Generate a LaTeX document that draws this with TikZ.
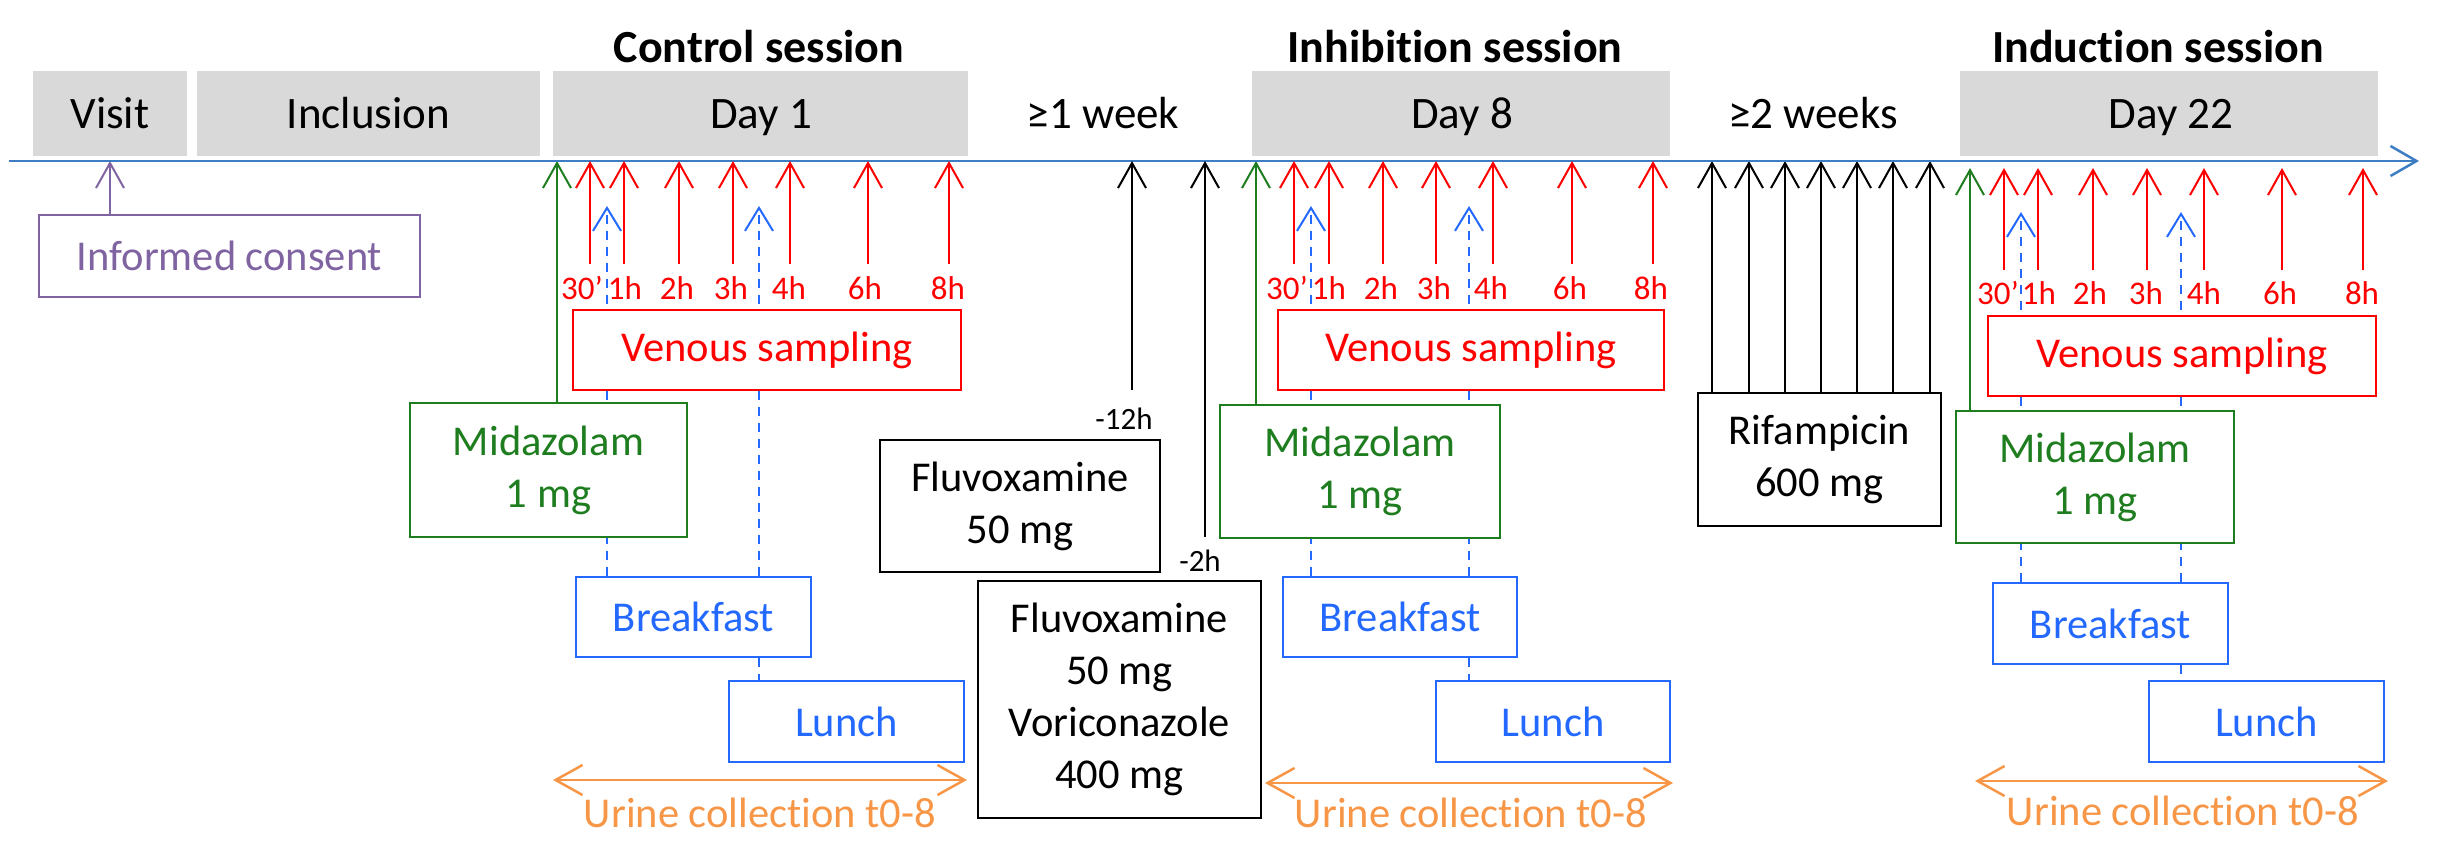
\documentclass[tikz,border=0pt]{standalone}
\usepackage{fontspec}
\setmainfont{Carlito}[Ligatures=NoCommon]
\usetikzlibrary{arrows.meta,backgrounds}
\definecolor{cred}{RGB}{255,0,0}
\definecolor{cgreen}{RGB}{30,125,30}
\definecolor{cblue}{RGB}{35,105,255}
\definecolor{cpurple}{RGB}{128,100,162}
\definecolor{corange}{RGB}{247,150,70}
\definecolor{cgrey}{RGB}{217,217,217}
\definecolor{caxis}{RGB}{60,125,196}
\tikzset{
  ftitle/.style={font=\fontsize{46}{55}\selectfont\bfseries},
  fgrey/.style={font=\fontsize{45}{54}\selectfont},
  fmain/.style={font=\fontsize{42.5}{52}\selectfont},
  flab/.style={font=\fontsize{33}{38}\selectfont},
  fsmall/.style={font=\fontsize{31}{37}\selectfont},
  greybox/.style={fill=cgrey,draw=none,minimum height=85pt,inner sep=0pt},
  greytext/.style={fgrey,anchor=base,inner sep=0pt},
  framebox/.style={draw,line width=2.5pt,fill=white,inner sep=0pt,align=center,fmain},
  tiparr/.style={-{Straight Barb[length=25pt,width=28pt]}},
  redarr/.style={draw=cred,line width=2pt,tiparr},
  greenarr/.style={draw=cgreen,line width=2pt,tiparr},
  blackarr/.style={draw=black,line width=2pt,tiparr},
  purplearr/.style={draw=cpurple,line width=2pt,tiparr},
  bluedasharr/.style={draw=cblue,line width=2pt,dash pattern=on 9pt off 7pt,-{Straight Barb[length=23pt,width=28pt]}},
  bluedash/.style={draw=cblue,line width=2pt,dash pattern=on 9pt off 7pt},
  urinearr/.style={draw=corange,line width=2.5pt,{Straight Barb[length=27pt,width=30pt]}-{Straight Barb[length=27pt,width=30pt]}},
  redlab/.style={flab,text=cred,anchor=base,inner sep=0pt},
  urinelab/.style={fmain,text=corange,anchor=base,inner sep=0pt},
}
\begin{document}
\begin{tikzpicture}[x=1pt,y=-1pt]
\useasboundingbox (0,0) rectangle (2443,857);
% titles
\node[ftitle,anchor=base] (t1) at (759,62) {Control session};
\node[ftitle,anchor=base] (t2) at (1455,62) {Inhibition session};
\node[ftitle,anchor=base] (t3) at (2158,62) {Induction session};
% grey boxes
\node[greybox,minimum width=154pt] (gvisit) at (110,113.5) {};
\node[greybox,minimum width=343pt] (gincl) at (368.5,113.5) {};
\node[greybox,minimum width=415pt] (gday1) at (760.5,113.5) {};
\node[greybox,minimum width=418pt] (gday8) at (1461,113.5) {};
\node[greybox,minimum width=418pt] (gday22) at (2169,113.5) {};
\node[greytext] (tvisit) at (110,128) {Visit};
\node[greytext] (tincl) at (368.5,128) {Inclusion};
\node[greytext] (tday1) at (761,128) {Day 1};
\node[greytext] (tw1) at (1103,128) {≥1 week};
\node[greytext] (tday8) at (1462,128) {Day 8};
\node[greytext] (tw2) at (1813,128) {≥2 weeks};
\node[greytext] (tday22) at (2171,128) {Day 22};
% axis
\coordinate (axL) at (9,161);
\coordinate (axR) at (2419,161);
\draw[draw=caxis,line width=2.5pt,-{Straight Barb[length=26pt,width=30pt]}] (axL) -- (axR);
% boxes
\node[framebox,draw=cpurple,text=cpurple,minimum width=381pt,minimum height=82pt] (ic) at (229.5,256) {Informed consent};
% control
\node[framebox,draw=cred,text=cred,minimum width=388pt,minimum height=80pt] (ven1) at (767,350) {Venous sampling};
\node[framebox,draw=cgreen,text=cgreen,minimum width=277pt,minimum height=134pt] (mid1) at (548.5,470) {Midazolam\\1 mg};
\node[framebox,draw=cblue,text=cblue,minimum width=235pt,minimum height=80pt] (bf1) at (693.5,617) {Breakfast};
\node[framebox,draw=cblue,text=cblue,minimum width=235pt,minimum height=81pt] (lu1) at (846.5,721.5) {Lunch};
% inhibition
\node[framebox,draw=cred,text=cred,minimum width=386pt,minimum height=80pt] (ven2) at (1471,350) {Venous sampling};
\node[framebox,draw=cgreen,text=cgreen,minimum width=280pt,minimum height=133pt] (mid2) at (1360,471.5) {Midazolam\\1 mg};
\node[framebox,draw=cblue,text=cblue,minimum width=234pt,minimum height=80pt] (bf2) at (1400,617) {Breakfast};
\node[framebox,draw=cblue,text=cblue,minimum width=234pt,minimum height=81pt] (lu2) at (1553,721.5) {Lunch};
% induction
\node[framebox,draw=cred,text=cred,minimum width=388pt,minimum height=80pt] (ven3) at (2182,356) {Venous sampling};
\node[framebox,draw=cgreen,text=cgreen,minimum width=278pt,minimum height=132pt] (mid3) at (2095,477) {Midazolam\\1 mg};
\node[framebox,draw=cblue,text=cblue,minimum width=235pt,minimum height=81pt] (bf3) at (2110.5,623.5) {Breakfast};
\node[framebox,draw=cblue,text=cblue,minimum width=235pt,minimum height=81pt] (lu3) at (2266.5,721.5) {Lunch};
% drugs
\node[framebox,draw=black,minimum width=280pt,minimum height=132pt] (fl) at (1020,506) {Fluvoxamine\\50 mg};
\node[framebox,draw=black,minimum width=283pt,minimum height=237pt] (fv) at (1119.5,699.5) {Fluvoxamine\\50 mg\\Voriconazole\\400 mg};
\node[framebox,draw=black,minimum width=243pt,minimum height=133pt] (rif) at (1819.5,459.5) {Rifampicin\\600 mg};
% small labels
\node[fsmall,anchor=base,inner sep=0pt] (l12) at (1124,429) {-12h};
\node[fsmall,anchor=base,inner sep=0pt] (l2) at (1200,571) {-2h};
% red arrows and labels
\foreach \x [count=\i] in {590,624,679,733,790,868,949} {
  \coordinate (ra\i) at (\x,264); \coordinate (rb\i) at (\x,161);
  \draw[redarr] (ra\i) -- (rb\i);
}
\foreach \x [count=\i] in {1294,1329,1383,1436,1493,1572,1653} {
  \coordinate (rc\i) at (\x,264); \coordinate (rd\i) at (\x,161);
  \draw[redarr] (rc\i) -- (rd\i);
}
\foreach \x [count=\i] in {2004,2038,2093,2147,2204,2282,2363} {
  \coordinate (re\i) at (\x,270); \coordinate (rf\i) at (\x,168);
  \draw[redarr] (re\i) -- (rf\i);
}
\foreach \x/\t [count=\i] in {582/30’,625/1h,677/2h,731/3h,789/4h,865/6h,948/8h} {
  \node[redlab] (la\i) at (\x,299) {\t};
}
\foreach \x/\t [count=\i] in {1287/30’,1329/1h,1381/2h,1434/3h,1491/4h,1570/6h,1651/8h} {
  \node[redlab] (lb\i) at (\x,299) {\t};
}
\foreach \x/\t [count=\i] in {1998/30’,2039/1h,2090/2h,2146/3h,2204/4h,2280/6h,2362/8h} {
  \node[redlab] (lc\i) at (\x,304) {\t};
}
% rifampicin arrows
\foreach \x [count=\i] in {1712,1749,1785,1821,1857,1893,1930} {
  \coordinate (rt\i) at (\x,161);
}
% black fluvoxamine arrows
\coordinate (k1a) at (1132,390); \coordinate (k1b) at (1132,161);
\coordinate (k2a) at (1205,537); \coordinate (k2b) at (1205,161);
\draw[blackarr] (k1a) -- (k1b);
\draw[blackarr] (k2a) -- (k2b);
% urine
\coordinate (u1a) at (553,780); \coordinate (u1b) at (967,780);
\coordinate (u2a) at (1265,783); \coordinate (u2b) at (1673,783);
\coordinate (u3a) at (1975,781); \coordinate (u3b) at (2388,781);
\draw[urinearr] (u1a) -- (u1b);
\draw[urinearr] (u2a) -- (u2b);
\draw[urinearr] (u3a) -- (u3b);
\node[urinelab] (ut1) at (760,827) {Urine collection t0-8};
\node[urinelab] (ut2) at (1471,827) {Urine collection t0-8};
\node[urinelab] (ut3) at (2183,825) {Urine collection t0-8};
% tips
\coordinate (pt) at (110,161);
\coordinate (g1) at (557,161);
\coordinate (g2) at (1256,161);
\coordinate (g3) at (1970,168);
\coordinate (b1a) at (607,206); \coordinate (b1b) at (759,206);
\coordinate (b2a) at (1311,206); \coordinate (b2b) at (1469,206);
\coordinate (b3a) at (2021,212); \coordinate (b3b) at (2181,212);
\begin{scope}[on background layer]
\draw[purplearr] (ic.north -| pt) -- (pt);
\draw[greenarr] (mid1.north -| g1) -- (g1);
\draw[greenarr] (mid2.north -| g2) -- (g2);
\draw[greenarr] (mid3.north -| g3) -- (g3);
\foreach \i in {1,...,7} { \draw[blackarr] (rif.north -| rt\i) -- (rt\i); }
\draw[bluedasharr] (bf1.north -| b1a) -- (b1a);
\draw[bluedasharr] (bf1.north -| b1b) -- (b1b);
\draw[bluedash] (bf1.south -| b1b) -- (lu1.north -| b1b);
\draw[bluedasharr] (bf2.north -| b2a) -- (b2a);
\draw[bluedasharr] (bf2.north -| b2b) -- (b2b);
\draw[bluedash] (bf2.south -| b2b) -- (lu2.north -| b2b);
\draw[bluedasharr] (bf3.north -| b3a) -- (b3a);
\draw[bluedasharr] (bf3.north -| b3b) -- (b3b);
\draw[bluedash] (bf3.south -| b3b) -- (lu3.north -| b3b);
\end{scope}
\end{tikzpicture}
\end{document}
